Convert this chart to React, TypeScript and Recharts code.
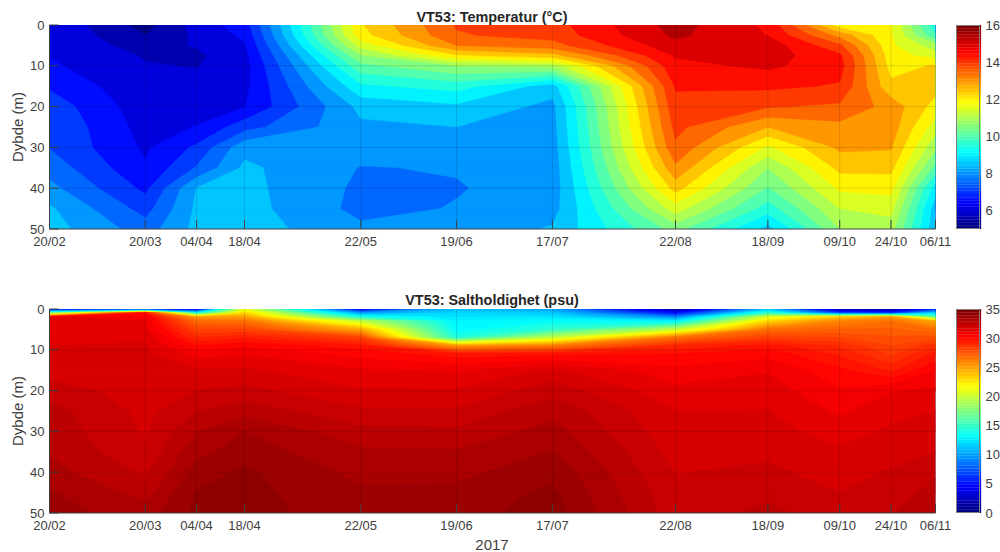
import { Area, Bar, BarChart, ComposedChart, ReferenceLine, XAxis, YAxis } from 'recharts'

// sampling dates, as day of year 2017
const dateLabels = ['20/02', '20/03', '04/04', '18/04', '22/05', '19/06', '17/07', '22/08', '18/09', '09/10', '24/10', '06/11']
const dateDays = [51, 79, 94, 108, 142, 170, 198, 234, 261, 282, 297, 310]

const depthTicks = [0, 10, 20, 30, 40, 50]
const tempDepths = [0, 2.5, 5, 7.5, 10, 15, 20, 25, 30, 35, 40, 45, 50]
const saltDepths = [0, 1, 2, 3, 5, 7, 9, 11, 15, 20, 25, 30, 35, 40, 45, 50]

// one row per date, one value per depth
const tempValues = [
  [6.45, 6.46, 6.47, 6.48, 6.58, 6.93, 7.3, 7.46, 7.48, 7.8, 8.15, 8.58, 8.72],
  [5.3, 5.5, 5.75, 5.96, 6.03, 6.1, 6.2, 6.3, 6.42, 6.56, 6.88, 7.3, 7.75],
  [6.2, 6.1, 6.05, 5.9, 5.98, 6.15, 6.3, 6.52, 7.1, 7.55, 8.52, 8.6, 8.65],
  [6.75, 6.6, 6.45, 6.35, 6.3, 6.35, 6.48, 7.3, 8.35, 8.6, 8.65, 8.7, 8.75],
  [12.45, 12.3, 11.7, 10.95, 10.35, 9.4, 8.65, 8.4, 8.2, 7.98, 7.9, 7.85, 8.1],
  [14.05, 13.95, 13.5, 12.4, 11, 9.7, 8.9, 8.5, 8.2, 8.03, 7.97, 8.03, 8.2],
  [14.3, 14.2, 13.8, 12.8, 11.2, 8.75, 8.35, 8.3, 8.25, 8.2, 8.2, 8.3, 8.55],
  [15.7, 15.6, 15.35, 15.05, 14.85, 14.55, 14.35, 14.15, 13.9, 13.4, 12.7, 11.75, 10.7],
  [14.9, 14.98, 15.3, 15.25, 15.1, 14.6, 14.05, 13, 11.9, 11, 10.45, 9.75, 8.8],
  [12.2, 13.3, 14.1, 14.6, 14.7, 14.45, 13.9, 13.35, 13.1, 12.65, 12.1, 11.5, 11],
  [12.05, 12.05, 12.1, 12.2, 12.3, 12.62, 13.3, 13.25, 13.05, 12.65, 12.15, 11.7, 11.2],
  [9.6, 10.1, 11.2, 11.8, 12.55, 12.7, 12.3, 11.75, 11.1, 10.35, 9.25, 8.7, 8.6],
]

const saltValues = [
  [3, 17, 31.6, 31.65, 31.75, 31.87, 32, 32.1, 32.3, 32.7, 33.2, 33.3, 33.45, 33.7, 34.05, 34.17],
  [2, 30.5, 31.2, 31.5, 31.7, 31.95, 32.05, 32.12, 32.2, 32.3, 32.35, 32.45, 32.6, 32.9, 33.3, 33.8],
  [3, 14, 25.5, 27.2, 28.5, 29.5, 30.5, 31.25, 32.05, 32.5, 32.98, 33.5, 33.85, 34.2, 34.55, 34.6],
  [21, 23.5, 25.5, 27, 28.5, 29.9, 30.9, 31.45, 32.1, 32.65, 33.3, 34, 34.25, 34.6, 34.65, 34.7],
  [4, 10, 14.5, 20, 25, 28.6, 30.2, 30.8, 31.55, 32.05, 32.6, 33.15, 33.6, 33.85, 34.1, 34.2],
  [11, 12, 12.5, 13, 13.3, 14.5, 25.5, 30.2, 31.45, 32.05, 32.6, 33.1, 33.55, 33.85, 34.15, 34.3],
  [10, 11.5, 12.5, 13.5, 15, 20, 26.5, 30.3, 32.1, 32.8, 33.35, 33.7, 34.02, 34.35, 34.6, 34.75],
  [1, 5, 9.5, 13, 20, 27, 29.5, 30.5, 31.15, 31.65, 32.02, 32.15, 32.3, 32.48, 32.6, 32.7],
  [11, 15, 21, 23.5, 27, 28.7, 30.2, 30.8, 31.45, 31.75, 32.02, 32.2, 32.4, 32.6, 32.85, 33.15],
  [1.5, 7, 24, 26.3, 27.5, 28.5, 29.4, 29.9, 30.6, 31.05, 31.4, 31.75, 32.1, 32.3, 32.5, 32.7],
  [1, 6, 25.5, 27, 27.6, 28.1, 28.5, 28.9, 29.9, 31.45, 31.85, 32.1, 32.3, 32.55, 32.75, 33],
  [6, 12, 17, 25, 27, 28.2, 29.3, 30.1, 31, 31.6, 32, 32.2, 32.5, 32.95, 33.15, 33.3],
]

const tempLevels = [5, 5.5, 6, 6.5, 7, 7.5, 8, 8.5, 9, 9.5, 10, 10.5, 11, 11.5, 12, 12.5, 13, 13.5, 14, 14.5, 15, 15.5]
const saltLevels = Array.from({ length: 70 }, (_, i) => i * 0.5)

const tempBarTicks = [6, 8, 10, 12, 14, 16]
const saltBarTicks = [0, 5, 10, 15, 20, 25, 30, 35]

const FONT = '"Liberation Sans", Arial, sans-serif'
const TEXT = '#404040'

const clamp = (v: number) => Math.max(0, Math.min(1, v))
function jet(f: number) {
  const r = clamp(Math.min(4 * f - 1.5, -4 * f + 4.5))
  const g = clamp(Math.min(4 * f - 0.5, -4 * f + 3.5))
  const b = clamp(Math.min(4 * f + 0.5, -4 * f + 2.5))
  return `rgb(${Math.round(r * 255)},${Math.round(g * 255)},${Math.round(b * 255)})`
}

interface Strip {
  color: string
  points: { day: number; band: [number, number] }[]
}

// filled contours: per level, the part of each depth row at or above that level,
// as range areas painted from the lowest level up
function buildStrips(days: number[], depths: number[], grid: number[][], levels: number[], vmin: number, vmax: number) {
  const strips: Strip[] = []
  const first = days[0]
  const last = days[days.length - 1]
  levels.forEach((level, li) => {
    const color = jet((level - vmin) / (vmax - vmin))
    if (li === 0) {
      strips.push({ color, points: [{ day: first, band: [depths[0], depths[depths.length - 1]] }, { day: last, band: [depths[0], depths[depths.length - 1]] }] })
      return
    }
    const next = levels[li + 1] ?? Infinity
    let fullFrom: number | null = null
    const flushFull = (to: number) => {
      if (fullFrom === null) return
      strips.push({ color, points: [{ day: first, band: [fullFrom, to] }, { day: last, band: [fullFrom, to] }] })
      fullFrom = null
    }
    for (let j = 0; j < depths.length - 1; j++) {
      const top = grid.map(col => col[j])
      const bottom = grid.map(col => col[j + 1])
      const d0 = depths[j]
      const d1 = depths[j + 1]
      if (Math.min(...top, ...bottom) >= level) {
        // row already fully covered by the next level: nothing to paint here
        if (Math.min(...top, ...bottom) >= next) {
          flushFull(d0)
        } else if (fullFrom === null) {
          fullFrom = d0
        }
        continue
      }
      flushFull(d0)
      if (Math.max(...top, ...bottom) < level) continue
      const xs = new Set(days)
      for (let i = 0; i < days.length - 1; i++) {
        for (const edge of [top, bottom]) {
          const a = edge[i]
          const b = edge[i + 1]
          if ((a < level && b >= level) || (a >= level && b < level)) {
            xs.add(days[i] + ((level - a) / (b - a)) * (days[i + 1] - days[i]))
          }
        }
      }
      const sorted = [...xs].sort((p, q) => p - q)
      let run: Strip['points'] = []
      const at = (edge: number[], x: number) => {
        let i = 0
        while (i < days.length - 2 && x > days[i + 1]) i++
        return edge[i] + ((x - days[i]) / (days[i + 1] - days[i])) * (edge[i + 1] - edge[i])
      }
      sorted.forEach(x => {
        const a = at(top, x)
        const b = at(bottom, x)
        const eps = 1e-6
        const aIn = a >= level - eps
        const bIn = b >= level - eps
        if (!aIn && !bIn) {
          if (run.length > 1) strips.push({ color, points: run })
          run = []
          return
        }
        let lo = d0
        let hi = d1
        if (aIn && !bIn) hi = d0 + ((a - level) / (a - b)) * (d1 - d0)
        if (!aIn && bIn) lo = d0 + ((level - a) / (b - a)) * (d1 - d0)
        run.push({ day: x, band: [lo, hi] })
      })
      if (run.length > 1) strips.push({ color, points: run })
    }
    flushFull(depths[depths.length - 1])
  })
  return strips
}

const tempStrips = buildStrips(dateDays, tempDepths, tempValues, tempLevels, 5, 16)
const saltStrips = buildStrips(dateDays, saltDepths, saltValues, saltLevels, 0, 35)

function ContourPanel({ strips, height, bottomAxisHeight }: { strips: Strip[]; height: number; bottomAxisHeight: number }) {
  const tickStyle = { fontSize: 13, fill: TEXT, fontFamily: FONT }
  return (
    <ComposedChart width={1000} height={height} margin={{ top: 25, right: 64.5, bottom: height - 229 - bottomAxisHeight, left: 0 }}>
      {strips.map((s, i) => (
        <Area
          key={i}
          data={s.points}
          dataKey="band"
          type="linear"
          fill={s.color}
          fillOpacity={1}
          stroke={s.color}
          strokeWidth={0.5}
          dot={false}
          activeDot={false}
          legendType="none"
          isAnimationActive={false}
        />
      ))}
      {dateDays.map(d => (
        <ReferenceLine key={d} x={d} stroke="#000" strokeOpacity={0.13} strokeWidth={1} />
      ))}
      {depthTicks.slice(1, -1).map(d => (
        <ReferenceLine key={d} y={d} stroke="#000" strokeOpacity={0.13} strokeWidth={1} />
      ))}
      <XAxis
        dataKey="day"
        type="number"
        domain={[51, 310]}
        ticks={dateDays}
        interval={0}
        allowDataOverflow
        tickFormatter={(d: number) => dateLabels[dateDays.indexOf(d)]}
        height={bottomAxisHeight}
        tickSize={-9}
        tickMargin={17}
        tick={tickStyle}
        stroke={TEXT}
      />
      <YAxis
        type="number"
        reversed
        domain={[0, 50]}
        ticks={depthTicks}
        interval={0}
        allowDataOverflow
        width={49.5}
        tickSize={-9}
        tickMargin={14}
        tick={tickStyle}
        stroke={TEXT}
        label={{ value: 'Dybde (m)', angle: -90, position: 'insideLeft', offset: 18, style: { ...tickStyle, fontSize: 15, textAnchor: 'middle' } }}
      />
      <XAxis xAxisId="top" orientation="top" dataKey="day" type="number" domain={[51, 310]} ticks={dateDays} interval={0} height={0} tickSize={-9} tickFormatter={() => ''} stroke={TEXT} />
      <YAxis yAxisId="right" orientation="right" type="number" reversed domain={[0, 50]} ticks={depthTicks} interval={0} width={0} tickSize={-9} tickFormatter={() => ''} stroke={TEXT} />
    </ComposedChart>
  )
}

const barKeys = Array.from({ length: 64 }, (_, i) => `s${i}`)

function ColorBar({ min, max, ticks, height }: { min: number; max: number; ticks: number[]; height: number }) {
  const row: Record<string, number | string> = { name: 'bar' }
  barKeys.forEach((k, i) => {
    // the stack starts at zero, the axis at min: the first segment runs up from below the axis
    row[k] = i === 0 ? min + (max - min) / 64 : (max - min) / 64
  })
  return (
    <BarChart width={44} height={height} data={[row]} barCategoryGap={0} margin={{ top: 25, right: 0, bottom: height - 229, left: 0 }}>
      <XAxis dataKey="name" hide />
      <YAxis
        orientation="right"
        type="number"
        domain={[min, max]}
        ticks={ticks}
        interval={0}
        allowDataOverflow
        width={20.5}
        tickSize={0}
        tickMargin={5}
        tick={{ fontSize: 13, fill: TEXT, fontFamily: FONT }}
        axisLine={false}
      />
      {barKeys.map((k, i) => (
        <Bar key={k} dataKey={k} stackId="c" fill={jet(i / 63)} stroke={jet(i / 63)} strokeWidth={0.3} isAnimationActive={false} />
      ))}
    </BarChart>
  )
}

const titleStyle = (top: number) => ({
  position: 'absolute' as const,
  left: 0,
  top,
  width: 984,
  textAlign: 'center' as const,
  fontFamily: FONT,
  fontWeight: 700,
  fontSize: 14.4,
  lineHeight: '16px',
  color: '#262626',
})

export default function App() {
  return (
    <div style={{ position: 'absolute', left: 0, top: 0, width: 1000, height: 552, background: '#fff', overflow: 'hidden' }}>
      <div style={{ position: 'absolute', left: 0, top: 0 }}>
        <ContourPanel strips={tempStrips} height={270} bottomAxisHeight={24} />
      </div>
      <div style={{ position: 'absolute', left: 0, top: 284 }}>
        <ContourPanel strips={saltStrips} height={268} bottomAxisHeight={24} />
      </div>
      <div style={{ position: 'absolute', left: 956.5, top: 0 }}>
        <ColorBar min={5} max={16} ticks={tempBarTicks} height={270} />
      </div>
      <div style={{ position: 'absolute', left: 956.5, top: 284 }}>
        <ColorBar min={0} max={35} ticks={saltBarTicks} height={268} />
      </div>
      <div style={{ position: 'absolute', left: 956, top: 25, width: 24, height: 204, border: '1px solid #808080', boxSizing: 'border-box' }} />
      <div style={{ position: 'absolute', left: 956, top: 309, width: 24, height: 204, border: '1px solid #808080', boxSizing: 'border-box' }} />
      <div style={titleStyle(9)}>VT53: Temperatur (°C)</div>
      <div style={titleStyle(292)}>VT53: Saltholdighet (psu)</div>
      <div style={{ position: 'absolute', left: 0, top: 538, width: 984, textAlign: 'center', fontFamily: FONT, fontSize: 15, lineHeight: '14px', color: TEXT }}>2017</div>
    </div>
  )
}
